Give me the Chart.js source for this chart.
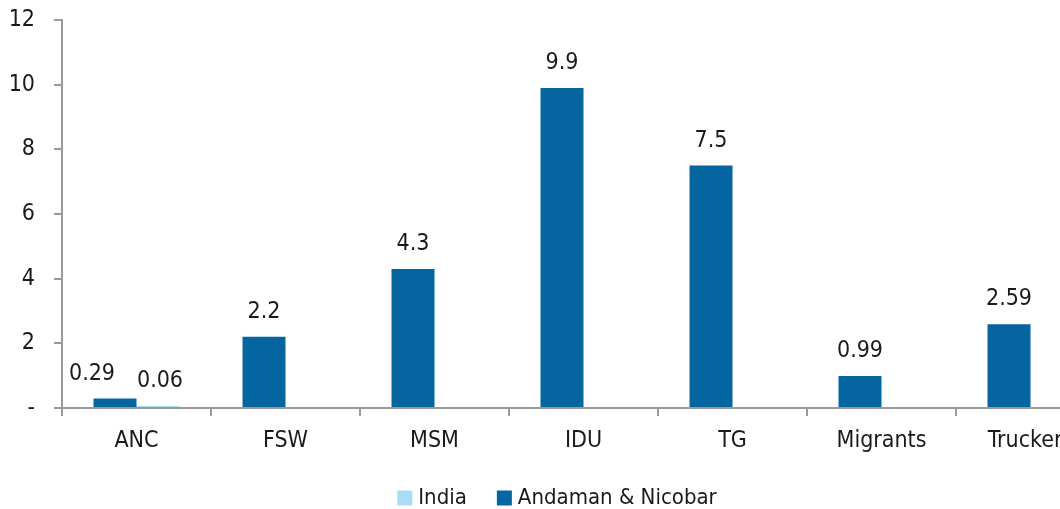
<!DOCTYPE html>
<html>
<head>
<meta charset="utf-8">
<script src="https://cdn.jsdelivr.net/npm/chart.js@4"></script>
<style>
html,body{margin:0;padding:0;background:#fff;overflow:hidden;}
#wrap{width:1110px;height:509px;}
</style>
</head>
<body>
<div id="wrap"><canvas id="c" width="1110" height="509"></canvas></div>
<script>
const categories = ["ANC", "FSW", "MSM", "IDU", "TG", "Migrants", "Truckers"];
const andamanValues = [0.29, 2.2, 4.3, 9.9, 7.5, 0.99, 2.59];
const indiaValues = [0.06, null, null, null, null, null, null];
const yTicks = [0, 2, 4, 6, 8, 10, 12];

const FONT = "'DejaVu Sans Condensed', 'DejaVu Sans', sans-serif";
const TEXT = "#1a1a1a";
const AXIS = "#9a9a9a";
const FS = 23;

const valueLabels = {
  id: 'valueLabels',
  afterDatasetsDraw(chart, args, opts) {
    const ctx = chart.ctx;
    const nudges = (opts && opts.nudges) || {};
    ctx.save();
    ctx.font = FS + "px " + FONT;
    ctx.fillStyle = TEXT;
    ctx.textAlign = 'center';
    ctx.textBaseline = 'alphabetic';
    chart.data.datasets.forEach((ds, i) => {
      const meta = chart.getDatasetMeta(i);
      meta.data.forEach((el, j) => {
        const v = ds.data[j];
        if (v === null || v === undefined) return;
        const dx = nudges[i + ':' + j] || 0;
        ctx.fillText(String(v), el.x + dx, el.y - 19);
      });
    });
    ctx.restore();
  }
};

const customLegend = {
  id: 'customLegend',
  afterDraw(chart) {
    const ctx = chart.ctx;
    ctx.save();
    ctx.font = "22px " + FONT;
    ctx.textBaseline = 'middle';
    ctx.textAlign = 'left';
    const items = chart.data.datasets.slice().reverse();
    const box = 15, gapText = 6, gapItem = 30;
    const widths = items.map(d => box + gapText + ctx.measureText(d.label).width);
    const total = widths.reduce((a, b) => a + b, 0) + gapItem * (items.length - 1);
    let x = 557 - total / 2;
    const cy = 498;
    items.forEach((d, i) => {
      ctx.fillStyle = d.backgroundColor;
      ctx.fillRect(x, cy - box / 2, box, box);
      ctx.fillStyle = TEXT;
      ctx.fillText(d.label, x + box + gapText, cy);
      x += widths[i] + gapItem;
    });
    ctx.restore();
  }
};

new Chart(document.getElementById('c'), {
  type: 'bar',
  data: {
    labels: categories,
    datasets: [
      { label: 'Andaman & Nicobar', data: andamanValues, backgroundColor: '#0565a1', borderWidth: 0 },
      { label: 'India', data: indiaValues, backgroundColor: '#a9ddf6', borderWidth: 0 }
    ]
  },
  options: {
    responsive: false,
    animation: false,
    devicePixelRatio: 1,
    layout: { padding: { top: 20, left: 0, right: 5, bottom: 41 } },
    datasets: { bar: { categoryPercentage: 0.577, barPercentage: 1 } },
    scales: {
      x: {
        grid: { display: true, drawOnChartArea: false, tickLength: 8, color: AXIS, lineWidth: 2 },
        border: { color: AXIS, width: 2 },
        ticks: { font: { family: FONT, size: FS }, color: TEXT, padding: 11, maxRotation: 0, autoSkip: false },
        afterFit(s) { s.height = 60; s.paddingLeft = 0; s.paddingRight = 0; }
      },
      y: {
        min: 0, max: 12,
        afterBuildTicks(s) { s.ticks = yTicks.map(v => ({ value: v })); },
        grid: { display: true, drawOnChartArea: false, tickLength: 8, color: AXIS, lineWidth: 2 },
        border: { color: AXIS, width: 2 },
        ticks: {
          font: { family: FONT, size: FS }, color: TEXT, padding: 19,
          callback: v => v === 0 ? '-' : String(v)
        },
        afterFit(s) { s.width = 62; s.paddingTop = 0; s.paddingBottom = 0; }
      }
    },
    plugins: {
      legend: { display: false },
      tooltip: { enabled: false },
      valueLabels: { nudges: { '0:0': -23, '1:0': 2 } }
    }
  },
  plugins: [valueLabels, customLegend]
});
</script>
</body>
</html>
